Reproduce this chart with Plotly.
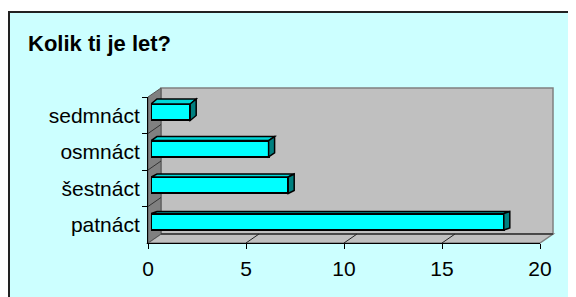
import plotly.graph_objects as go

# ---- data ----
categories = ["patnáct", "šestnáct", "osmnáct", "sedmnáct"]
values = [18, 7, 6, 2]
x_ticks = [0, 5, 10, 15, 20]
title_text = "Kolik ti je let?"

# ---- layout constants (screen pixels) ----
W, H = 576, 297
OFF = 8                                  # page body margin
FL, FR, FT, FB = 148, 540, 97, 243      # front frame of the 3D box
DX, DY = 13, -9                          # depth offset of back wall
BX, BY = 3, -3                           # bar front-plane offset
BAR_W = 0.45                             # bar thickness (category units)
SIDEX = 6                                # bar side-face depth (px)
BG = "#CCFFFF"
WALL = "#C0C0C0"
SIDE = "#808080"
FONT = "Liberation Sans, Arial, sans-serif"


def fx(p):
    return (p - OFF) / W


def fy(p):
    return 1 - (p - OFF) / H


def dom(ox, oy):
    return [fx(FL + ox), fx(FR + ox)], [fy(FB + oy), fy(FT + oy)]


fig = go.Figure()

# subplots: 1 back grid, 2 bars, 3 front axes
fig.add_trace(go.Bar(
    x=values, y=categories, orientation="h", width=BAR_W,
    marker=dict(color="#00FFFF", line=dict(color="black", width=2)),
    xaxis="x2", yaxis="y2", hoverinfo="skip", showlegend=False,
))
fig.add_trace(go.Bar(
    x=values, y=categories, orientation="h", width=BAR_W,
    marker=dict(color="rgba(0,0,0,0)", line=dict(width=0)),
    xaxis="x3", yaxis="y3", hoverinfo="skip", showlegend=False,
))

layout = dict(
    width=W, height=H,
    margin=dict(l=0, r=0, t=0, b=0, pad=0, autoexpand=False),
    paper_bgcolor="white", plot_bgcolor="rgba(0,0,0,0)",
    font=dict(family=FONT, color="black", size=21),
    showlegend=False, bargap=0,
    title=dict(text=f"<b>{title_text}</b>", x=fx(28), xanchor="left",
               y=fy(43), yanchor="middle", font=dict(size=22, family=FONT)),
)

# back wall grid
xd, yd = dom(DX, DY)
layout["xaxis"] = dict(domain=xd, range=[0, 20], anchor="y", tickvals=x_ticks[1:-1],
                       showgrid=True, gridcolor="#111", gridwidth=1, ticks="",
                       showticklabels=False, zeroline=False, showline=False, fixedrange=True)
layout["yaxis"] = dict(domain=yd, range=[-0.5, 3.5], anchor="x", tickvals=[0.5, 1.5, 2.5],
                       showgrid=True, gridcolor="#333", gridwidth=1, ticks="",
                       showticklabels=False, zeroline=False, showline=False, fixedrange=True)

# bars plane
xd, yd = dom(BX, BY)
layout["xaxis2"] = dict(domain=xd, range=[0, 20], anchor="y2", visible=False, fixedrange=True)
layout["yaxis2"] = dict(domain=yd, range=[-0.5, 3.5], anchor="x2", type="category",
                        categoryorder="array", categoryarray=categories,
                        visible=False, fixedrange=True)

# front axes
xd, yd = dom(0, 0)
layout["xaxis3"] = dict(domain=xd, range=[0, 20], anchor="y3", tickvals=x_ticks,
                        ticks="outside", ticklen=5, tickcolor="black", showline=True,
                        linecolor="black", linewidth=1, showgrid=False, zeroline=False,
                        tickfont=dict(size=21), ticklabelstandoff=2, fixedrange=True)
layout["yaxis3"] = dict(domain=yd, range=[-0.5, 3.5], anchor="x3", type="category",
                        categoryorder="array", categoryarray=categories,
                        tickson="boundaries", ticks="outside", ticklen=5,
                        tickcolor="black", showline=True, linecolor="black",
                        linewidth=1, showgrid=False, tickfont=dict(size=21),
                        ticklabelstandoff=3, fixedrange=True)

shapes = []
# chart area background with border
shapes.append(dict(type="rect", xref="paper", yref="paper", layer="below",
                   x0=fx(9), y0=fy(12), x1=fx(W + 20), y1=fy(H + 20),
                   fillcolor=BG, line=dict(color="#222", width=2)))
# back wall
shapes.append(dict(type="rect", xref="paper", yref="paper", layer="below",
                   x0=fx(FL + DX), x1=fx(FR + DX), y0=fy(FB + DY), y1=fy(FT + DY),
                   fillcolor=WALL, line=dict(color=SIDE, width=1.5)))
# floor
shapes.append(dict(type="path", xref="paper", yref="paper", layer="below",
                   path=(f"M{fx(FL)},{fy(FB)} L{fx(FR)},{fy(FB)} "
                         f"L{fx(FR + DX)},{fy(FB + DY)} L{fx(FL + DX)},{fy(FB + DY)} Z"),
                   fillcolor=WALL, line=dict(color=SIDE, width=1.5)))
# side wall
shapes.append(dict(type="path", xref="paper", yref="paper", layer="below",
                   path=(f"M{fx(FL)},{fy(FT)} L{fx(FL + DX)},{fy(FT + DY)} "
                         f"L{fx(FL + DX)},{fy(FB + DY)} L{fx(FL)},{fy(FB)} Z"),
                   fillcolor=SIDE, line=dict(color="#555", width=1)))
# diagonals on side wall at category boundaries
band = (FB - FT) / len(categories)
for k in range(1, len(categories)):
    y = FT + k * band
    shapes.append(dict(type="line", xref="paper", yref="paper", layer="below",
                       x0=fx(FL), y0=fy(y), x1=fx(FL + DX), y1=fy(y + DY),
                       line=dict(color="#333", width=1)))
# bottom edge of back wall
shapes.append(dict(type="line", xref="paper", yref="paper", layer="below",
                   x0=fx(FL + DX), y0=fy(FB + DY), x1=fx(FR + DX), y1=fy(FB + DY),
                   line=dict(color="#333", width=1.5)))
# diagonals on floor at x ticks (anchored on front axis scale)
for v in x_ticks[1:-1]:
    shapes.append(dict(type="line", xref="x3", yref="paper", layer="above",
                       xsizemode="pixel", xanchor=v, x0=0, x1=DX,
                       y0=fy(FB), y1=fy(FB + DY), line=dict(color="#222", width=1)))

# 3D faces of the bars (anchored at each bar through the bar axes)
half = BAR_W * band / 2
d_data = SIDEX * 20 / (FR - FL)
for i, v in enumerate(values):
    dy = 2 + i  # perspective: top faces more visible higher up
    shapes.append(dict(type="path", xref="x2", yref="y2", layer="above",
                       xsizemode="scaled", ysizemode="pixel", yanchor=i,
                       path=(f"M0,{half} L{v},{half} L{v + d_data},{half + dy} "
                             f"L{d_data},{half + dy} Z"),
                       fillcolor="#00D8D8", line=dict(color="black", width=1.5)))
    shapes.append(dict(type="path", xref="x2", yref="y2", layer="above",
                       xsizemode="pixel", ysizemode="pixel", xanchor=v, yanchor=i,
                       path=(f"M0,{-half} L0,{half} L{SIDEX},{half + dy} "
                             f"L{SIDEX},{-half + dy} Z"),
                       fillcolor="#008080", line=dict(color="black", width=1.5)))
layout["shapes"] = shapes

fig.update_layout(**layout)
fig.write_html("out.html")
